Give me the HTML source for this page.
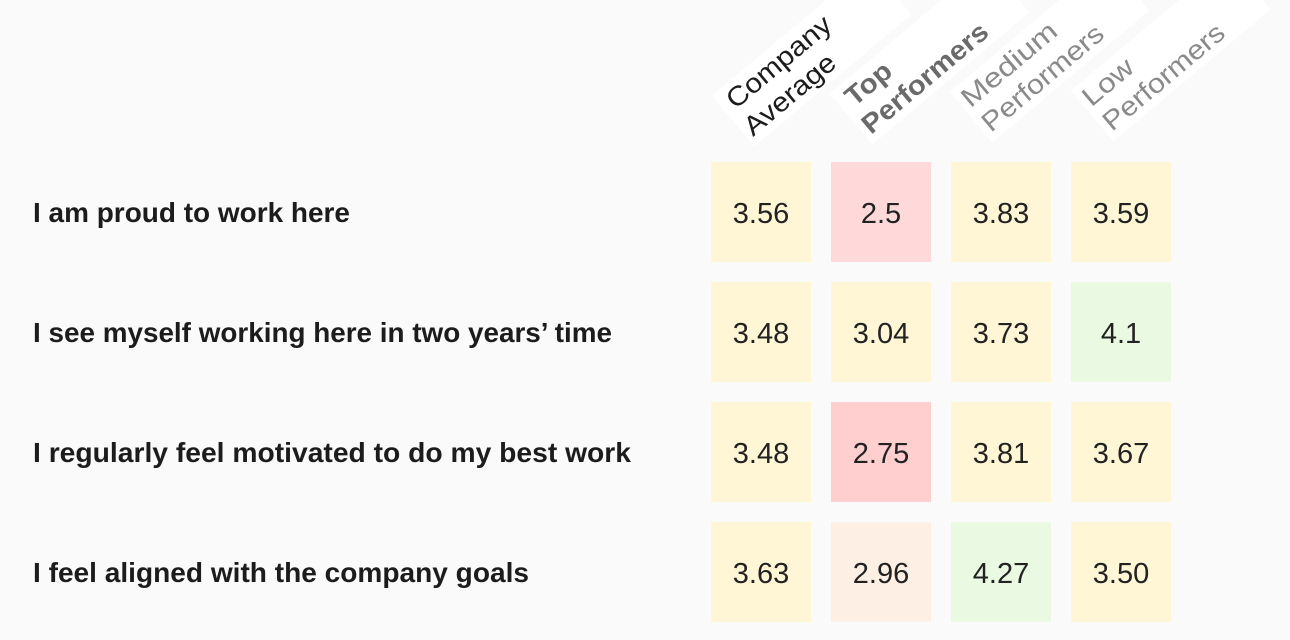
<!DOCTYPE html>
<html>
<head>
<meta charset="utf-8">
<style>
  html, body { margin: 0; padding: 0; background: #fafafa; }
  svg { display: block; }
  .lbl { font-family: "Liberation Sans", sans-serif; font-weight: bold; font-size: 28px; fill: #1c1c1c; }
  .num { font-family: "Liberation Sans", sans-serif; font-size: 29px; fill: #222; text-anchor: middle; }
  .h { font-family: "Liberation Sans", sans-serif; font-size: 27px; }
</style>
</head>
<body>
<svg width="1290" height="640" viewBox="0 0 1290 640" xmlns="http://www.w3.org/2000/svg">
  <rect x="0" y="0" width="1290" height="640" fill="#fafafa"/>

  <!-- Header bands and text -->
  <g transform="translate(753,137) rotate(-40)">
    <rect x="-5" y="-58" width="205" height="66" fill="#ffffff"/>
    <text class="h" x="4" y="-32" fill="#1c1c1c" textLength="128" lengthAdjust="spacingAndGlyphs">Company</text>
    <text class="h" x="0" y="0" fill="#1c1c1c" textLength="111" lengthAdjust="spacingAndGlyphs">Average</text>
  </g>
  <g transform="translate(871,135) rotate(-40)">
    <rect x="-5" y="-58" width="205" height="66" fill="#ffffff"/>
    <text class="h" x="5" y="-32" fill="#6a6a6a" font-weight="bold" textLength="52" lengthAdjust="spacingAndGlyphs">Top</text>
    <text class="h" x="0" y="0" fill="#6a6a6a" font-weight="bold" textLength="156" lengthAdjust="spacingAndGlyphs">Performers</text>
  </g>
  <g transform="translate(991,133) rotate(-40)">
    <rect x="-5" y="-58" width="205" height="66" fill="#ffffff"/>
    <text class="h" x="0" y="-32" fill="#8a8a8a" textLength="116" lengthAdjust="spacingAndGlyphs">Medium</text>
    <text class="h" x="0" y="0" fill="#8a8a8a" textLength="150" lengthAdjust="spacingAndGlyphs">Performers</text>
  </g>
  <g transform="translate(1112,132) rotate(-40)">
    <rect x="-5" y="-58" width="205" height="66" fill="#ffffff"/>
    <text class="h" x="0" y="-32" fill="#8a8a8a" textLength="58" lengthAdjust="spacingAndGlyphs">Low</text>
    <text class="h" x="0" y="0" fill="#8a8a8a" textLength="150" lengthAdjust="spacingAndGlyphs">Performers</text>
  </g>

  <!-- Row labels -->
  <text class="lbl" x="33" y="222" textLength="317" lengthAdjust="spacingAndGlyphs">I am proud to work here</text>
  <text class="lbl" x="33" y="342" textLength="579" lengthAdjust="spacingAndGlyphs">I see myself working here in two years’ time</text>
  <text class="lbl" x="33" y="462" textLength="598" lengthAdjust="spacingAndGlyphs">I regularly feel motivated to do my best work</text>
  <text class="lbl" x="33" y="582" textLength="496" lengthAdjust="spacingAndGlyphs">I feel aligned with the company goals</text>

  <!-- Row 1 -->
  <rect x="711" y="162" width="100" height="100" fill="#FFF6D6"/>
  <rect x="831" y="162" width="100" height="100" fill="#FFD9DA"/>
  <rect x="951" y="162" width="100" height="100" fill="#FFF6D6"/>
  <rect x="1071" y="162" width="100" height="100" fill="#FFF6D6"/>
  <text class="num" x="761" y="223">3.56</text>
  <text class="num" x="881" y="223">2.5</text>
  <text class="num" x="1001" y="223">3.83</text>
  <text class="num" x="1121" y="223">3.59</text>

  <!-- Row 2 -->
  <rect x="711" y="282" width="100" height="100" fill="#FFF6D6"/>
  <rect x="831" y="282" width="100" height="100" fill="#FFF6D6"/>
  <rect x="951" y="282" width="100" height="100" fill="#FFF6D6"/>
  <rect x="1071" y="282" width="100" height="100" fill="#EAF9E2"/>
  <text class="num" x="761" y="343">3.48</text>
  <text class="num" x="881" y="343">3.04</text>
  <text class="num" x="1001" y="343">3.73</text>
  <text class="num" x="1121" y="343">4.1</text>

  <!-- Row 3 -->
  <rect x="711" y="402" width="100" height="100" fill="#FFF6D6"/>
  <rect x="831" y="402" width="100" height="100" fill="#FFCFD0"/>
  <rect x="951" y="402" width="100" height="100" fill="#FFF6D6"/>
  <rect x="1071" y="402" width="100" height="100" fill="#FFF6D6"/>
  <text class="num" x="761" y="463">3.48</text>
  <text class="num" x="881" y="463">2.75</text>
  <text class="num" x="1001" y="463">3.81</text>
  <text class="num" x="1121" y="463">3.67</text>

  <!-- Row 4 -->
  <rect x="711" y="522" width="100" height="100" fill="#FFF6D6"/>
  <rect x="831" y="522" width="100" height="100" fill="#FDEFE3"/>
  <rect x="951" y="522" width="100" height="100" fill="#EAF9E2"/>
  <rect x="1071" y="522" width="100" height="100" fill="#FFF6D6"/>
  <text class="num" x="761" y="583">3.63</text>
  <text class="num" x="881" y="583">2.96</text>
  <text class="num" x="1001" y="583">4.27</text>
  <text class="num" x="1121" y="583">3.50</text>
</svg>
</body>
</html>
